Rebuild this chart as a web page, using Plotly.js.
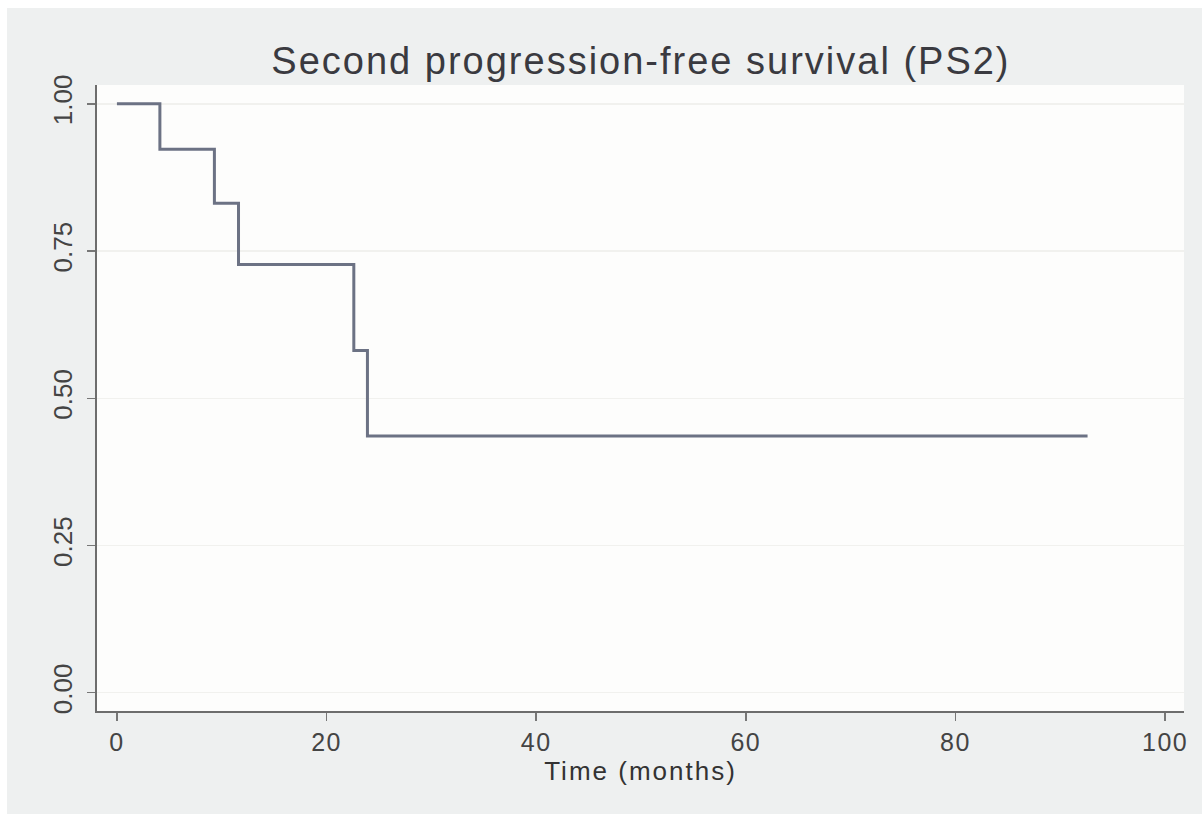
<!DOCTYPE html>
<html><head><meta charset="utf-8">
<script src="https://cdn.plot.ly/plotly-3.0.1.min.js"></script>
<style>
html,body{margin:0;padding:0;background:#ffffff;}
#chart{position:absolute;left:7px;top:8px;width:1195px;height:806px;}
#chart .gtitle{letter-spacing:2px;}
#chart .xtick text{letter-spacing:1.5px;}
#chart .xtitle{letter-spacing:2px;}
</style></head>
<body><div id="chart"></div>
<script>
// Kaplan-Meier step function: event times and survival after each step
const stepTimes = [0, 4.1, 9.3, 11.6, 22.6, 23.9, 92.6];
const survival  = [1.0, 0.923, 0.831, 0.727, 0.581, 0.436, 0.436];
const xTicks = [0, 20, 40, 60, 80, 100];
const yTicks = [0, 0.25, 0.5, 0.75, 1.0];
const yTickLabels = ["0.00", "0.25", "0.50", "0.75", "1.00"];

const trace = {
  x: stepTimes, y: survival, type: 'scatter', mode: 'lines',
  line: {shape: 'hv', color: '#6c7284', width: 3}, hoverinfo: 'skip'
};
const font = 'Liberation Sans, Arial, sans-serif';
const layout = {
  width: 1195, height: 806,
  margin: {l: 90, r: 18, t: 77, b: 103},
  paper_bgcolor: '#eef0f0', plot_bgcolor: '#fdfdfc',
  showlegend: false,
  title: {text: 'Second progression-free survival (PS2)', x: 0.5305, xanchor: 'center', y: 0.935, yanchor: 'middle',
          font: {family: font, size: 38, color: '#3a3a40'}},
  xaxis: {range: [-1.9, 101.8], tickvals: xTicks, ticktext: xTicks.map(String),
          showgrid: false, zeroline: false, showline: true, linecolor: '#6d6d6d', linewidth: 2,
          ticks: 'outside', ticklen: 8, tickwidth: 1.5, tickcolor: '#777',
          tickfont: {family: font, size: 25, color: '#444'},
          title: {text: 'Time (months)', standoff: 7, font: {family: font, size: 26, color: '#333'}}},
  yaxis: {range: [-0.031, 1.032], tickvals: yTicks, ticktext: yTickLabels, tickangle: -90,
          showgrid: true, gridcolor: '#f1f1ee', gridwidth: 1.5, zeroline: false,
          showline: true, linecolor: '#6d6d6d', linewidth: 2,
          ticks: 'outside', ticklen: 8, tickwidth: 1.5, tickcolor: '#777', ticklabelstandoff: 5,
          tickfont: {family: font, size: 26, color: '#444'}}
};
Plotly.newPlot('chart', [trace], layout, {displayModeBar: false, staticPlot: true});
</script></body></html>
